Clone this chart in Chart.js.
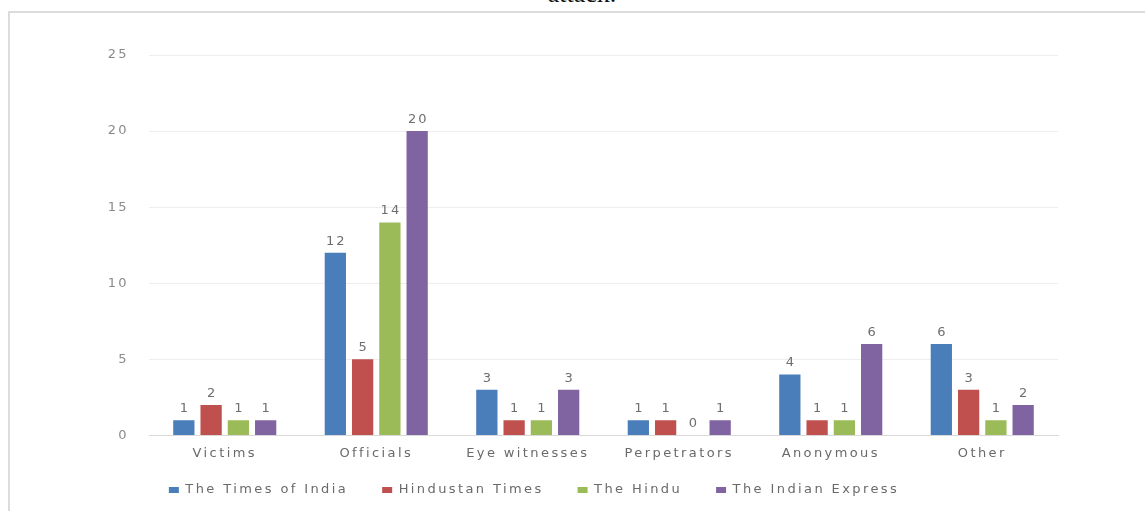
<!DOCTYPE html>
<html>
<head>
<meta charset="utf-8">
<script src="https://cdn.jsdelivr.net/npm/chart.js@4.4.1/dist/chart.umd.min.js"></script>
<style>
  html, body { margin: 0; padding: 0; background: #ffffff; width: 1145px; height: 511px; overflow: hidden; }
  #caption {
    position: absolute; left: 482px; width: 200px; top: -19px;
    font-family: "Liberation Serif", "Times New Roman", serif; font-size: 26px; line-height: 26px;
    text-align: center; color: #111;
  }
  #frame {
    position: absolute; left: 8px; top: 11px; width: 1200px; height: 540px;
    border-left: 2px solid #dcdcdc; border-top: 2px solid #dcdcdc;
  }
  #wrap { position: absolute; left: 0; top: 0; width: 1055px; height: 507px; }
</style>
</head>
<body>
<div id="caption">attack.</div>
<div id="frame">
  <div id="wrap"><canvas id="chart"></canvas></div>
</div>
<script>
// Source types quoted by each newspaper
const categories = ["Victims", "Officials", "Eye witnesses", "Perpetrators", "Anonymous", "Other"];
const timesOfIndia   = [1, 12, 3, 1, 4, 6];
const hindustanTimes = [2, 5, 1, 1, 1, 3];
const theHindu       = [1, 14, 1, 0, 1, 1];
const indianExpress  = [1, 20, 3, 1, 6, 2];
const seriesNames = ["The Times of India", "Hindustan Times", "The Hindu", "The Indian Express"];
const yTicks = [0, 5, 10, 15, 20, 25];

const colors = ["#4a7ebb", "#c0504d", "#9bbb59", "#8064a2"];
const seriesValues = [timesOfIndia, hindustanTimes, theHindu, indianExpress];

const FONT = "'DejaVu Sans', 'Open Sans', sans-serif";
const SPACING = "2.4px";
const LEGEND_PAD = 34;
const LEGEND_ROW_Y = 477;   // vertical centre of the legend row, in canvas pixels

// Wide letter spacing for all chart text
const spacingPlugin = {
  id: "spacing",
  beforeUpdate(chart) { chart.ctx.letterSpacing = SPACING; },
  beforeLayout(chart) { chart.ctx.letterSpacing = SPACING; },
  beforeDraw(chart) { chart.ctx.letterSpacing = SPACING; },
  // pull the legend row up closer to the category labels
  afterLayout(chart) {
    const lg = chart.legend;
    if (!lg) return;
    const itemH = lg._itemHeight || 13;
    const newTop = LEGEND_ROW_Y - LEGEND_PAD - itemH / 2;
    const dy = newTop - lg.top;
    lg.top += dy; lg.bottom += dy;
  }
};

// Value labels above each bar
const valueLabels = {
  id: "valueLabels",
  afterDatasetsDraw(chart) {
    const ctx = chart.ctx;
    ctx.save();
    ctx.letterSpacing = "2px";
    ctx.font = "13px " + FONT;
    ctx.fillStyle = "#6e6e6e";
    ctx.textAlign = "center";
    ctx.textBaseline = "bottom";
    chart.data.datasets.forEach((ds, i) => {
      chart.getDatasetMeta(i).data.forEach((bar, j) => {
        ctx.fillText(String(ds.data[j]), bar.x + 1, bar.y - 5);
      });
    });
    ctx.restore();
  }
};

new Chart(document.getElementById("chart"), {
  type: "bar",
  data: {
    labels: categories,
    datasets: seriesNames.map((name, i) => ({
      label: name,
      data: seriesValues[i],
      backgroundColor: colors[i],
      borderWidth: 0,
      categoryPercentage: 0.72,
      barPercentage: 0.78
    }))
  },
  options: {
    responsive: true,
    maintainAspectRatio: false,
    animation: false,
    layout: { padding: { top: 42, right: 7, bottom: 0, left: 0 } },
    plugins: {
      tooltip: { enabled: false },
      legend: {
        position: "bottom",
        labels: {
          boxWidth: 10, boxHeight: 6, padding: LEGEND_PAD,
          color: "#6a6a6a",
          font: { family: FONT, size: 13 }
        }
      }
    },
    scales: {
      x: {
        grid: { display: false },
        border: { display: true, color: "#d9d9d9", width: 1 },
        ticks: { color: "#6a6a6a", padding: 2, font: { family: FONT, size: 13 } }
      },
      y: {
        min: 0, max: 25,
        afterBuildTicks(s) { s.ticks = yTicks.map(v => ({ value: v })); },
        grid: {
          drawTicks: false,
          color: c => (c.tick && c.tick.value === 0) ? "#d9d9d9" : "#eeeeee",
          lineWidth: 1
        },
        border: { display: false },
        ticks: { color: "#8a8a8a", padding: 20, font: { family: FONT, size: 13 } },
        afterFit(s) { s.width = 139; }
      }
    }
  },
  plugins: [spacingPlugin, valueLabels]
});
</script>
</body>
</html>
